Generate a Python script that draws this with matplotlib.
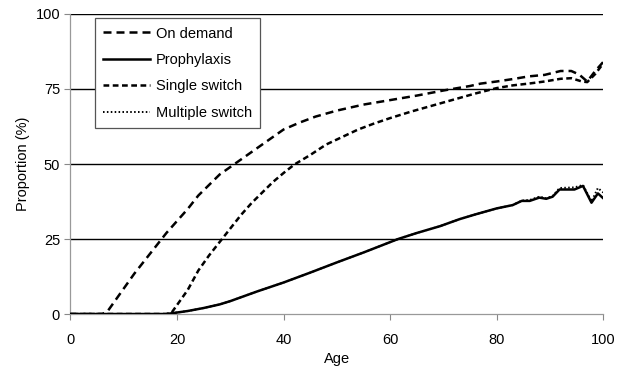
import matplotlib
matplotlib.use('Agg')
import matplotlib.pyplot as plt

plt.rcParams['font.family'] = ['Liberation Sans Narrow', 'Liberation Sans', 'DejaVu Sans']

# Values (age, proportion %)
on_demand_age = [0, 6, 7, 8, 10, 12, 14, 16, 18, 20, 22, 24, 26, 28, 30, 32, 34, 36, 38, 40,
                 43, 46, 50, 55, 60, 65, 70, 75, 77, 80, 83, 86, 89, 92, 94, 95.5, 97, 98.5, 100]
on_demand = [0, 0, 1, 3.5, 8.5, 13.5, 18, 22.5, 27, 31, 35, 39.5, 43, 46.5, 49, 51.5, 54, 56.5,
             59, 61.5, 63.8, 65.8, 67.8, 69.8, 71.3, 72.8, 74.5, 76, 76.8, 77.5, 78.3, 79.2,
             79.7, 81, 81, 79.8, 77.5, 81, 84]

single_age = [0, 18, 19, 20, 22, 24, 26, 28, 30, 32, 34, 36, 38, 40, 42, 45, 48, 51, 54, 57,
              60, 64, 68, 72, 76, 80, 83, 86, 89, 92, 94, 96, 97, 98.5, 100]
single_switch = [0, 0, 0.5, 3, 8, 14.5, 19.5, 24, 28.5, 33, 37, 40.5, 44, 47, 49.8, 53, 56.5,
                 59, 61.5, 63.5, 65.3, 67.5, 69.5, 71.5, 73.5, 75.3, 76.2, 76.8, 77.5, 78.4,
                 78.6, 77.5, 77.3, 80, 83.5]

proph_age = [0, 18, 20, 22, 25, 28, 30, 35, 40, 45, 50, 55, 61.5, 65, 69.4, 73, 76, 80, 83,
             84.7, 86.2, 88, 89.3, 90.5, 91.8, 94.6, 96.2, 97.8, 99, 100]
prophylaxis = [0, 0, 0.5, 1, 2, 3.2, 4.3, 7.5, 10.5, 13.8, 17.2, 20.5, 25, 27, 29.3, 31.6, 33.2,
               35.2, 36.3, 37.7, 37.7, 38.8, 38.4, 39.1, 41.5, 41.5, 42.7, 37.1, 40.2, 38.6]
multiple_switch = [0, 0, 0.5, 1, 2, 3.2, 4.3, 7.5, 10.5, 13.8, 17.2, 20.5, 25, 27, 29.3, 31.6,
                   33.2, 35.2, 36.3, 37.8, 38.0, 39.1, 38.6, 39.3, 42.0, 42.2, 43.0, 37.5, 42.0,
                   40.5]

fig = plt.figure(figsize=(6.26, 3.71), dpi=100)
ax = fig.add_axes([0.1126, 0.1536, 0.851, 0.8087])

for yv in [25, 50, 75, 100]:
    ax.axhline(yv, color='black', lw=1.0, zorder=1)

ax.plot(on_demand_age, on_demand, color='black', lw=1.8, dashes=(3.2, 2.0), label='On demand', zorder=3)
ax.plot(proph_age, prophylaxis, color='black', lw=1.8, label='Prophylaxis', zorder=3)
ax.plot(single_age, single_switch, color='black', lw=1.8, dashes=(2.3, 1.4), label='Single switch', zorder=3)
ax.plot(proph_age, multiple_switch, color='black', lw=1.4, dashes=(0.8, 1.2), label='Multiple switch', zorder=2)

ax.set_xlim(0, 100)
ax.set_ylim(0, 100)
ax.set_xticks([0, 20, 40, 60, 80, 100])
ax.set_yticks([0, 25, 50, 75, 100])
ax.tick_params(axis='both', colors='#888888', labelcolor='black', labelsize=10.5, length=4, width=0.8)
ax.tick_params(axis='x', pad=10)
for s in ['top', 'right']:
    ax.spines[s].set_visible(False)
for s in ['left', 'bottom']:
    ax.spines[s].set_color('#999999')
    ax.spines[s].set_linewidth(0.9)

ax.set_xlabel('Age', fontsize=10.5, labelpad=3)
ax.set_ylabel('Proportion (%)', fontsize=10.5, labelpad=4)

leg = ax.legend(loc='upper left', bbox_to_anchor=(0.046, 0.985), borderaxespad=0,
                fontsize=10.5, handlelength=3.2, handletextpad=0.4, labelspacing=0.85,
                fancybox=False, framealpha=1, edgecolor='#555555', borderpad=0.55)
leg.get_frame().set_linewidth(0.9)

fig.savefig('out.png', dpi=100)
